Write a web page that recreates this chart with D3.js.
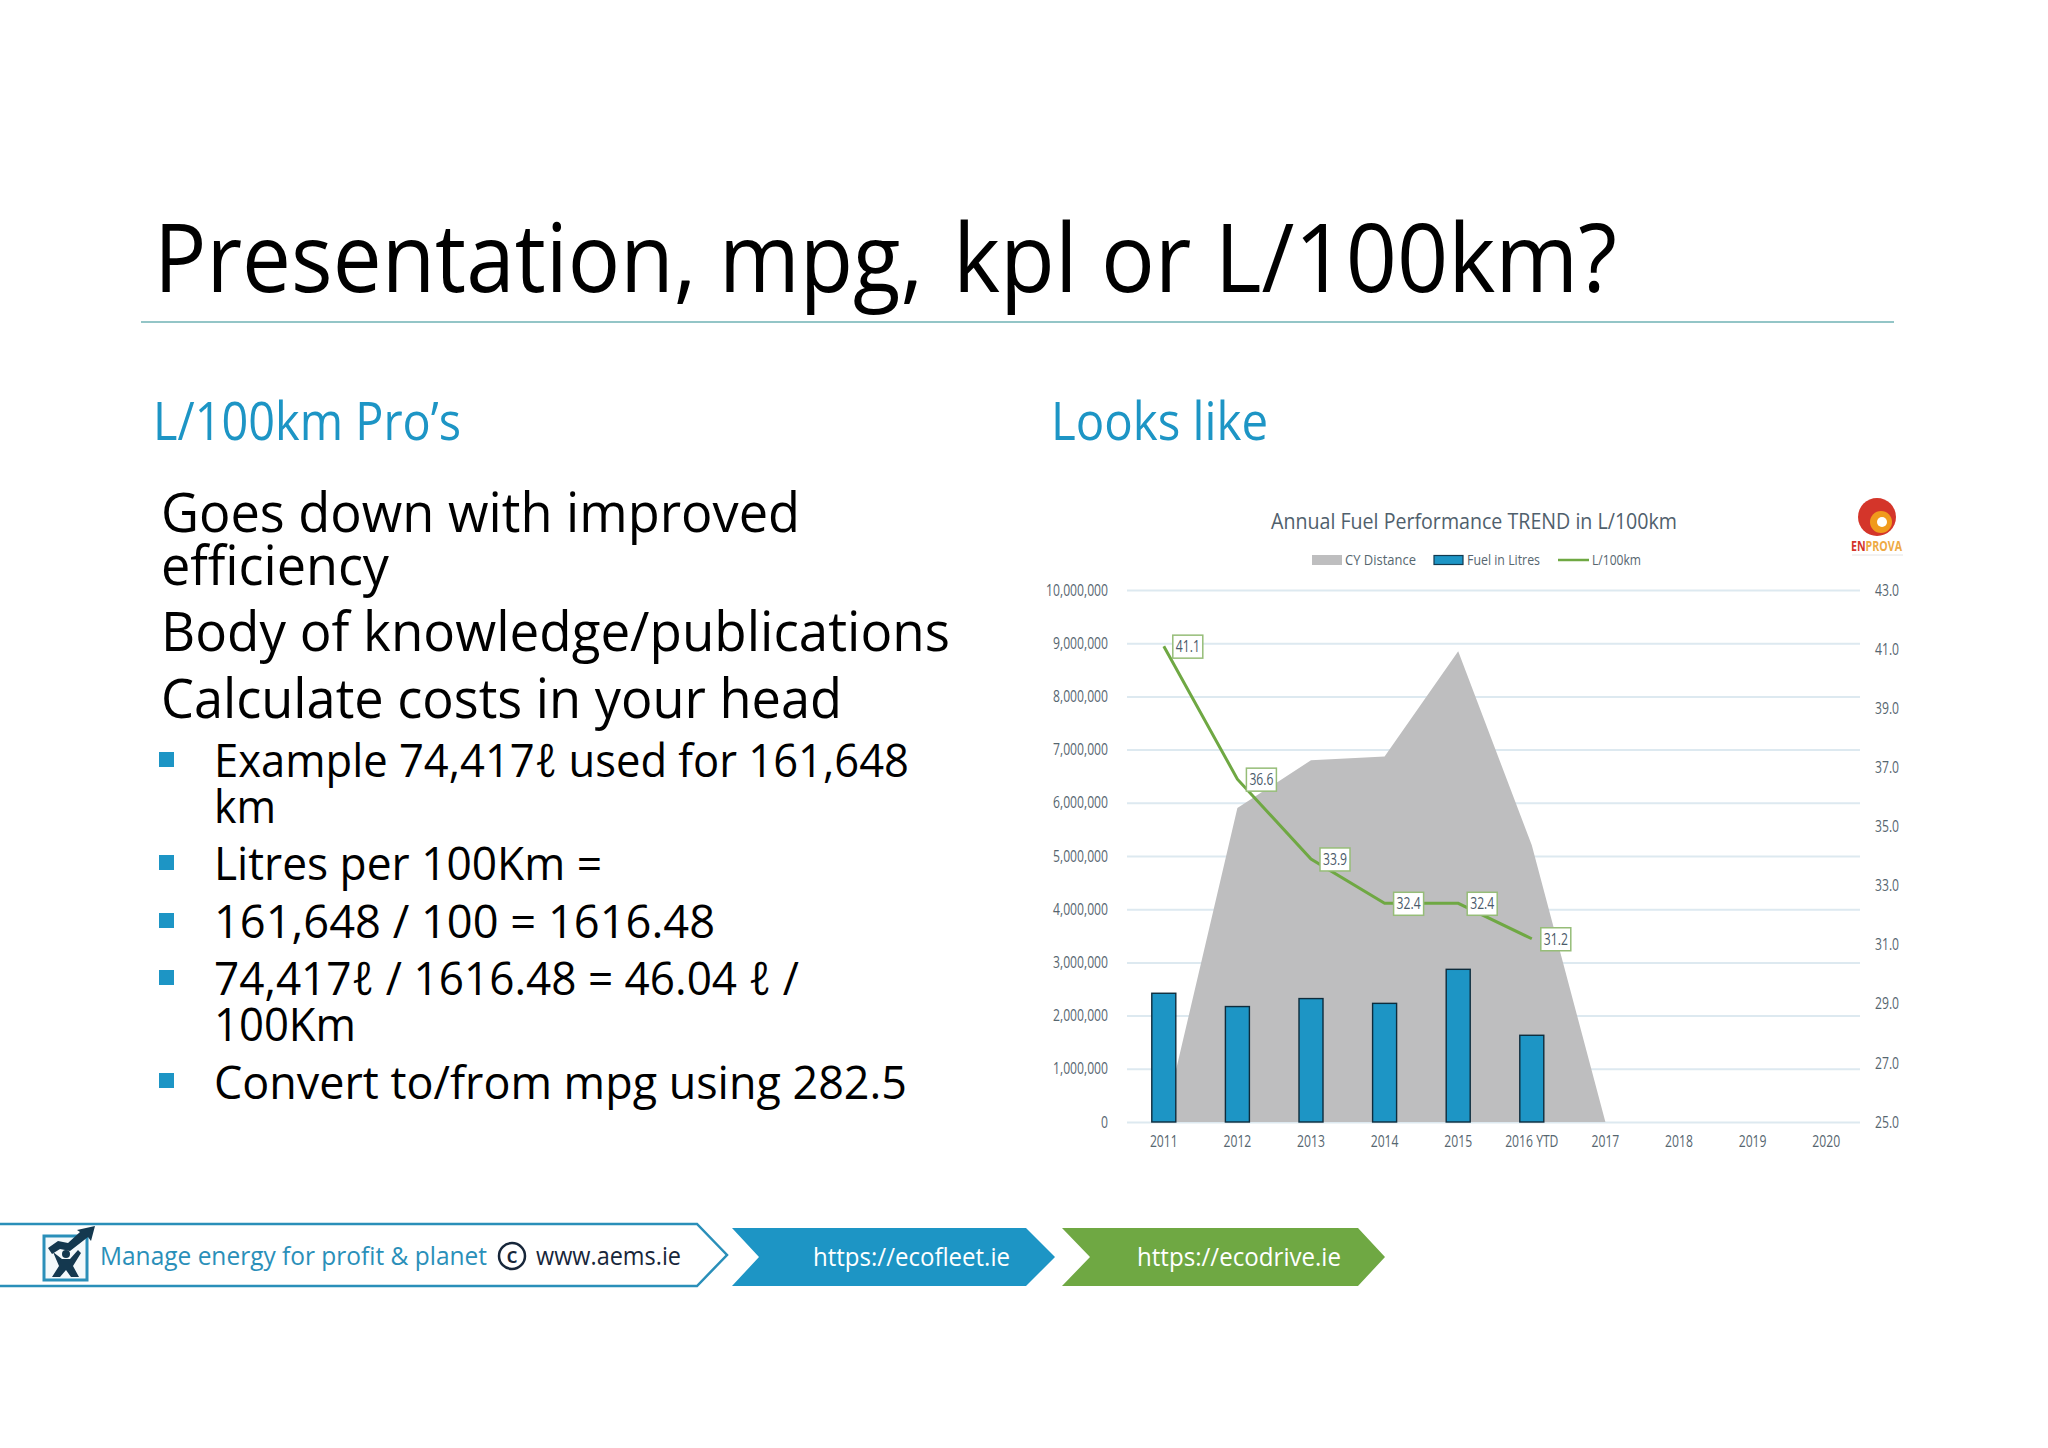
<!DOCTYPE html>
<html>
<head>
<meta charset="utf-8">
<script src="https://cdnjs.cloudflare.com/ajax/libs/d3/7.8.5/d3.min.js"></script>
<style>
html, body { margin: 0; padding: 0; background: #fff; }
svg { display: block; }
text { font-family: "Open Sans", "Noto Sans", "DejaVu Sans", sans-serif; }
</style>
</head>
<body>
<div id="slide"></div>
<script>
// chart data
var categories = ["2011", "2012", "2013", "2014", "2015", "2016 YTD", "2017", "2018", "2019", "2020"];
var areaCategories = ["2011", "2012", "2013", "2014", "2015", "2016 YTD", "2017"];
var cyDistance = [0, 5900000, 6800000, 6870000, 8850000, 5200000, 0];
var barCategories = ["2011", "2012", "2013", "2014", "2015", "2016 YTD"];
var fuelLitres = [2420000, 2170000, 2320000, 2230000, 2870000, 1630000];
var lPer100km = [41.1, 36.6, 33.9, 32.4, 32.4, 31.2];
var leftTicks = [0, 1000000, 2000000, 3000000, 4000000, 5000000, 6000000, 7000000, 8000000, 9000000, 10000000];
var rightTicks = [25, 27, 29, 31, 33, 35, 37, 39, 41, 43];

var BLUE = "#1d95c5";
var GREEN = "#6fa843";
var GREY_AREA = "#bebebf";
var TICK = "#56666f";

var svg = d3.select("#slide").append("svg")
    .attr("width", 2048)
    .attr("height", 1448);

svg.append("rect").attr("width", 2048).attr("height", 1448).attr("fill", "#fff");

// text squeezed to the width it has on the slide (no Segoe UI here)
function label(parent, str, x, y, width, size, color) {
    return parent.append("text")
        .attr("x", x)
        .attr("y", y)
        .attr("textLength", width)
        .attr("lengthAdjust", "spacingAndGlyphs")
        .attr("font-size", size)
        .attr("fill", color)
        .text(str);
}

function condense(selection, factor) {
    selection.each(function () {
        var w = this.getComputedTextLength();
        d3.select(this)
            .attr("textLength", w * factor)
            .attr("lengthAdjust", "spacingAndGlyphs");
    });
}

function drawSlideText() {
    label(svg, "Presentation, mpg,", 154, 292, 769, 96, "#000");
    label(svg, "kpl or L/100km?", 953, 292, 664, 96, "#000");
    svg.append("line")
        .attr("x1", 141).attr("x2", 1894)
        .attr("y1", 322).attr("y2", 322)
        .attr("stroke", "#6fb2b5")
        .attr("stroke-width", 1.5);

    label(svg, "L/100km Pro\u2019s", 153, 440, 308, 53, BLUE);
    label(svg, "Looks like", 1051, 440, 217, 53, BLUE);

    label(svg, "Goes down with improved", 161, 532, 639, 55, "#000");
    label(svg, "efficiency", 161, 585, 228, 55, "#000");
    label(svg, "Body of knowledge/publications", 161, 651, 789, 55, "#000");
    label(svg, "Calculate costs in your head", 161, 718, 681, 55, "#000");

    label(svg, "Example 74,417\u2113 used for 161,648", 214, 777, 695, 46, "#000");
    label(svg, "km", 214, 823, 62, 46, "#000");
    label(svg, "Litres per 100Km =", 214, 880, 388, 46, "#000");
    label(svg, "161,648 / 100 = 1616.48", 214, 938, 501, 46, "#000");
    label(svg, "74,417\u2113 / 1616.48 = 46.04 \u2113 /", 214, 995, 585, 46, "#000");
    label(svg, "100Km", 214, 1041, 142, 46, "#000");
    label(svg, "Convert to/from mpg using 282.5", 214, 1099, 693, 46, "#000");

    [759, 862, 920, 977, 1080].forEach(function (cy) {
        svg.append("rect")
            .attr("x", 159).attr("y", cy - 7)
            .attr("width", 15).attr("height", 15)
            .attr("fill", BLUE);
    });
}

function drawFooter() {
    var footer = svg.append("g");
    footer.append("path")
        .attr("d", "M0,1224 L697,1224 L727,1255 L697,1286 L0,1286")
        .attr("fill", "#fff")
        .attr("stroke", "#2a8fb9")
        .attr("stroke-width", 2.5);
    footer.append("path")
        .attr("d", "M732,1228 L1026,1228 L1055,1257 L1026,1286 L732,1286 L759,1257 Z")
        .attr("fill", BLUE);
    footer.append("path")
        .attr("d", "M1062,1228 L1358,1228 L1385,1257 L1358,1286 L1062,1286 L1090,1257 Z")
        .attr("fill", GREEN);

    // little man lifting an arrow
    footer.append("rect")
        .attr("x", 44).attr("y", 1236)
        .attr("width", 43).attr("height", 44)
        .attr("fill", "#f4f9fb")
        .attr("stroke", "#2a8fb9")
        .attr("stroke-width", 3);
    footer.append("path")
        .attr("d", "M48,1248 L58,1241 L68,1243 L80,1232 L77,1230 L95,1226 L91,1241 L88,1237 L70,1251 L60,1249 L52,1254 Z")
        .attr("fill", "#14384f");
    footer.append("path")
        .attr("d", "M53,1252 L62,1259 L70,1259 L78,1250 L81,1253 L73,1266 L79,1277 L71,1277 L66,1270 L60,1277 L52,1277 L59,1266 Z")
        .attr("fill", "#14384f");
    footer.append("circle")
        .attr("cx", 66).attr("cy", 1254).attr("r", 4)
        .attr("fill", "#14384f");

    label(footer, "Manage energy for profit & planet", 100, 1265, 387, 26, "#2a8fb9");
    footer.append("circle")
        .attr("cx", 512).attr("cy", 1256).attr("r", 13)
        .attr("fill", "none")
        .attr("stroke", "#17263a")
        .attr("stroke-width", 2.5);
    footer.append("text")
        .attr("x", 512).attr("y", 1263)
        .attr("text-anchor", "middle")
        .attr("font-size", 22)
        .attr("font-weight", 600)
        .attr("fill", "#17263a")
        .text("c");
    label(footer, "www.aems.ie", 536, 1265, 145, 26, "#17263a");
    label(footer, "https://ecofleet.ie", 813, 1266, 197, 26, "#fff");
    label(footer, "https://ecodrive.ie", 1137, 1266, 204, 26, "#fff");
}

function drawLogo() {
    var logo = svg.append("g");
    logo.append("circle").attr("cx", 1877).attr("cy", 517).attr("r", 19).attr("fill", "#d4352a");
    logo.append("circle").attr("cx", 1881).attr("cy", 522).attr("r", 11).attr("fill", "#f09a1c");
    logo.append("circle").attr("cx", 1882).attr("cy", 522).attr("r", 5).attr("fill", "#fff");
    var word = logo.append("text")
        .attr("x", 1851).attr("y", 551)
        .attr("textLength", 51)
        .attr("lengthAdjust", "spacingAndGlyphs")
        .attr("font-size", 14)
        .attr("font-weight", 700);
    word.append("tspan").attr("fill", "#d4352a").text("EN");
    word.append("tspan").attr("fill", "#eeaa44").text("PROVA");
    logo.append("line")
        .attr("x1", 1852).attr("x2", 1903)
        .attr("y1", 555).attr("y2", 555)
        .attr("stroke", "#e4e4e4");
}

function drawChart() {
    var plot = { left: 1127, right: 1863, top: 590, bottom: 1122 };

    var x = d3.scaleBand().domain(categories).range([plot.left, plot.right]);
    var y = d3.scaleLinear().domain([0, 10000000]).range([plot.bottom, plot.top]);
    var yRight = d3.scaleLinear().domain([25, 43]).range([plot.bottom, plot.top]);

    function cx(name) {
        return x(name) + x.bandwidth() / 2;
    }

    function styleTicks(axis) {
        axis.selectAll("text")
            .attr("font-size", 16)
            .attr("font-family", "\"Open Sans\", sans-serif")
            .attr("fill", TICK)
            .call(condense, 0.76);
    }

    var chart = svg.append("g");

    label(chart, "Annual Fuel Performance TREND in L/100km", 1271, 529, 406, 22, "#50606c");

    // legend
    chart.append("rect")
        .attr("x", 1312).attr("y", 555).attr("width", 30).attr("height", 10)
        .attr("fill", GREY_AREA);
    label(chart, "CY Distance", 1345, 565, 71, 14, TICK);
    chart.append("rect")
        .attr("x", 1434).attr("y", 555.5).attr("width", 29).attr("height", 9)
        .attr("fill", BLUE)
        .attr("stroke", "#123a50")
        .attr("stroke-width", 1.2);
    label(chart, "Fuel in Litres", 1467, 565, 73, 14, TICK);
    chart.append("line")
        .attr("x1", 1558).attr("x2", 1589)
        .attr("y1", 560).attr("y2", 560)
        .attr("stroke", GREEN)
        .attr("stroke-width", 2.5);
    label(chart, "L/100km", 1592, 565, 49, 14, TICK);

    // left axis carries the gridlines
    var leftAxis = chart.append("g")
        .attr("transform", "translate(" + plot.left + ",0)")
        .call(d3.axisLeft(y)
            .tickValues(leftTicks)
            .tickFormat(d3.format(","))
            .tickSize(-(plot.right - plot.left - 3))
            .tickPadding(19));
    leftAxis.select(".domain").remove();
    leftAxis.selectAll("line").attr("stroke", "#dde9f0").attr("stroke-width", 2);
    leftAxis.call(styleTicks);

    var rightAxis = chart.append("g")
        .attr("transform", "translate(" + plot.right + ",0)")
        .call(d3.axisRight(yRight)
            .tickValues(rightTicks)
            .tickFormat(d3.format(".1f"))
            .tickSize(0)
            .tickPadding(12));
    rightAxis.select(".domain").remove();
    rightAxis.call(styleTicks);

    var bottomAxis = chart.append("g")
        .attr("transform", "translate(0," + (plot.bottom + 8) + ")")
        .call(d3.axisBottom(x).tickSize(0).tickPadding(6));
    bottomAxis.select(".domain").remove();
    bottomAxis.call(styleTicks);

    // CY Distance area
    var area = d3.area()
        .x(function (d, i) { return cx(areaCategories[i]); })
        .y0(plot.bottom)
        .y1(function (d) { return y(d); });
    chart.append("path")
        .datum(cyDistance)
        .attr("d", area)
        .attr("fill", GREY_AREA);

    // Fuel in Litres bars
    chart.selectAll(".bar")
        .data(fuelLitres)
        .enter()
        .append("rect")
        .attr("class", "bar")
        .attr("x", function (d, i) { return cx(barCategories[i]) - 12; })
        .attr("y", function (d) { return y(d); })
        .attr("width", 24)
        .attr("height", function (d) { return plot.bottom - y(d); })
        .attr("fill", BLUE)
        .attr("stroke", "#0e2c3c")
        .attr("stroke-width", 1.4);

    // L/100km line and boxed labels
    var line = d3.line()
        .x(function (d, i) { return cx(barCategories[i]); })
        .y(function (d) { return yRight(d); });
    chart.append("path")
        .datum(lPer100km)
        .attr("d", line)
        .attr("fill", "none")
        .attr("stroke", GREEN)
        .attr("stroke-width", 3);

    var boxes = chart.selectAll(".box")
        .data(lPer100km)
        .enter()
        .append("g")
        .attr("class", "box")
        .attr("transform", function (d, i) {
            return "translate(" + (cx(barCategories[i]) + 24) + "," + yRight(d) + ")";
        });
    boxes.append("rect")
        .attr("x", -15).attr("y", -11)
        .attr("width", 30).attr("height", 23)
        .attr("fill", "#fff")
        .attr("stroke", "#96bd78")
        .attr("stroke-width", 1.5);
    boxes.append("text")
        .attr("text-anchor", "middle")
        .attr("y", 6)
        .attr("font-size", 16)
        .attr("fill", "#4a5a6a")
        .text(function (d) { return d3.format(".1f")(d); })
        .call(condense, 0.76);
}

drawSlideText();
drawChart();
drawLogo();
drawFooter();
</script>
</body>
</html>
